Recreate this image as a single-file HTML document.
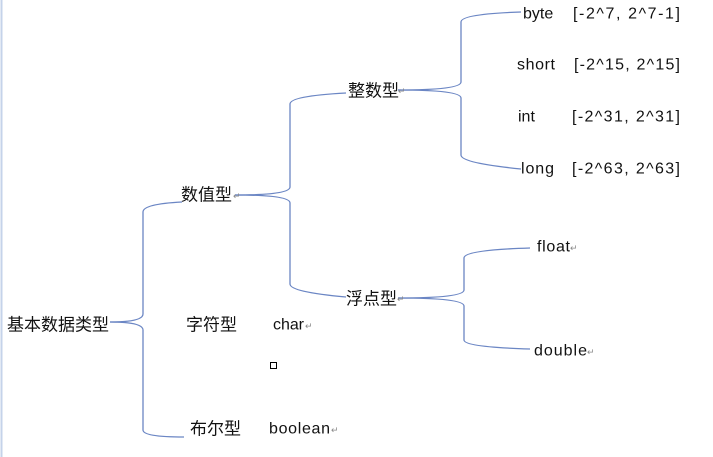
<!DOCTYPE html>
<html><head><meta charset="utf-8"><style>
html,body{margin:0;padding:0;background:#fff;}
svg{display:block;}
text{font-family:"Liberation Sans","Noto Sans CJK SC",sans-serif;font-size:16px;fill:#111;dominant-baseline:central;}
.c{font-size:17px;}
.r{font-size:9px;fill:#888;}
</style></head><body>
<svg width="713" height="457" viewBox="0 0 713 457" xmlns="http://www.w3.org/2000/svg">
<line x1="1.5" y1="0" x2="1.5" y2="457" stroke="#c5d3ea" stroke-width="2"/>
<g fill="none" stroke="#6b86c4" stroke-width="1.3">
<path d="M110 322 Q143 322 143 314 L143 212 Q143 204 182 202"/>
<path d="M110 322 Q143 322 143 330 L143 430 Q143 437 184 437"/>
<path d="M235 195 Q290 195 290 187 L290 104 Q290 96 346 93"/>
<path d="M235 195 Q290 195 290 203 L290 284 Q290 292 346 297"/>
<path d="M398 90 Q461 90 461 82 L461 22 Q461 14 521 12"/>
<path d="M398 90 Q461 90 461 98 L461 155 Q461 163 521 169"/>
<path d="M398 298 Q464 298 464 290 L464 258 Q464 250 530 248"/>
<path d="M398 298 Q464 298 464 306 L464 340 Q464 347 530 349"/>
</g>
<text x="7" y="325" class="c">基本数据类型</text>
<text x="181" y="195" class="c">数值型</text>
<text x="233" y="196" class="r">↵</text>
<text x="348" y="91" class="c">整数型</text>
<text x="398" y="91" class="r">↵</text>
<text x="346" y="299" class="c">浮点型</text>
<text x="397" y="299" class="r">↵</text>
<text x="186" y="325" class="c">字符型</text>
<text x="273" y="325" textLength="31" lengthAdjust="spacing">char</text><text x="305" y="326" class="r">↵</text>
<text x="190" y="429" class="c">布尔型</text>
<text x="269" y="429" textLength="61" lengthAdjust="spacing">boolean</text><text x="331" y="430" class="r">↵</text>
<rect x="270.5" y="362.5" width="6" height="6" fill="none" stroke="#000" stroke-width="1"/>
<text x="523" y="14">byte</text><text x="573" y="14" textLength="107" lengthAdjust="spacing">[-2^7, 2^7-1]</text>
<text x="517" y="65" textLength="38" lengthAdjust="spacing">short</text><text x="574" y="65" textLength="106" lengthAdjust="spacing">[-2^15, 2^15]</text>
<text x="518" y="117">int</text><text x="572" y="117" textLength="108" lengthAdjust="spacing">[-2^31, 2^31]</text>
<text x="521" y="169" textLength="33" lengthAdjust="spacing">long</text><text x="572" y="169" textLength="108" lengthAdjust="spacing">[-2^63, 2^63]</text>
<text x="537" y="247" textLength="33" lengthAdjust="spacing">float</text><text x="570" y="248" class="r">↵</text>
<text x="534" y="351" textLength="53" lengthAdjust="spacing">double</text><text x="587" y="352" class="r">↵</text>
</svg>
</body></html>
